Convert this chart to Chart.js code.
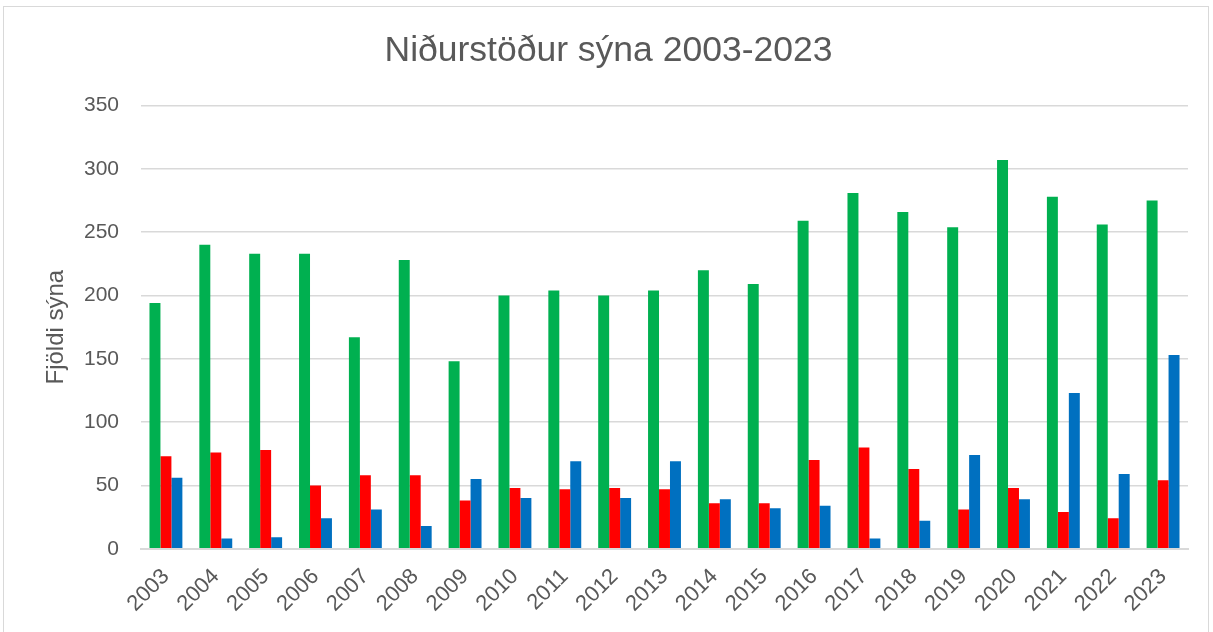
<!DOCTYPE html>
<html>
<head>
<meta charset="utf-8">
<script src="https://cdn.jsdelivr.net/npm/chart.js@4/dist/chart.umd.min.js"></script>
<style>
	html, body { margin: 0; padding: 0; background: #fff; }
	#wrap { position: absolute; left: 3px; top: 6px; width: 1206px; height: 640px; border: 1px solid #d9d9d9; box-sizing: border-box; }
	#box { position: absolute; left: 0; top: 0; width: 1213px; height: 632px; }
</style>
</head>
<body>
<div id="wrap"></div>
<div id="box"><canvas id="resultChart"></canvas></div>
<script>
var years = ['2003', '2004', '2005', '2006', '2007', '2008', '2009', '2010', '2011', '2012', '2013',
	'2014', '2015', '2016', '2017', '2018', '2019', '2020', '2021', '2022', '2023'];
var greenValues = [194, 240, 233, 233, 167, 228, 148, 200, 204, 200, 204, 220, 209, 259, 281, 266, 254, 307, 278, 256, 275];
var redValues = [73, 76, 78, 50, 58, 58, 38, 48, 47, 48, 47, 36, 36, 70, 80, 63, 31, 48, 29, 24, 54];
var blueValues = [56, 8, 9, 24, 31, 18, 55, 40, 69, 40, 69, 39, 32, 34, 8, 22, 74, 39, 123, 59, 153];
var yTicks = [0, 50, 100, 150, 200, 250, 300, 350];

var textColor = '#595959';
var gridColor = '#d9d9d9';
var fontName = "'Liberation Sans', Arial, sans-serif";

function barSet(values, color) {
	return {
		data : values,
		backgroundColor : color,
		borderWidth : 0,
		categoryPercentage : 0.66,
		barPercentage : 1.0
	};
}

var resultCanvas = document.getElementById('resultChart').getContext('2d');
var resultChart = new Chart(resultCanvas, {
	type : 'bar',
	data : {
		labels : years,
		datasets : [ barSet(greenValues, '#00B050'), barSet(redValues, '#FF0000'), barSet(blueValues, '#0070C0') ]
	},
	options : {
		responsive : true,
		maintainAspectRatio : false,
		animation : false,
		layout : { padding : { left : 29, right : 25, top : 30, bottom : 0 } },
		plugins : {
			legend : { display : false },
			tooltip : { enabled : false },
			title : {
				display : true,
				text : 'Niðurstöður sýna 2003-2023',
				color : textColor,
				font : { family : fontName, size : 35.5, weight : 'normal' },
				padding : { top : 0, bottom : 33 }
			}
		},
		scales : {
			x : {
				grid : { display : false, drawTicks : false },
				border : { color : gridColor, width : 2 },
				ticks : {
					color : textColor,
					font : { family : fontName, size : 22 },
					maxRotation : 45,
					minRotation : 45,
					padding : 15
				},
				afterFit : function(scale) {
					scale.paddingLeft = 0;
					scale.paddingRight = 0;
				}
			},
			y : {
				min : 0,
				max : 350,
				afterBuildTicks : function(axis) {
					axis.ticks = yTicks.map(function(v) { return { value : v }; });
				},
				afterFit : function(axis) {
					axis.width = 112;
				},
				grid : { color : gridColor, lineWidth : 1.5, drawTicks : false },
				border : { display : false },
				ticks : {
					color : textColor,
					font : { family : fontName, size : 21 },
					padding : 22
				},
				title : {
					display : true,
					text : 'Fjöldi sýna',
					color : textColor,
					font : { family : fontName, size : 24 },
					padding : { top : 13, bottom : 0 }
				}
			}
		}
	}
});
</script>
</body>
</html>
